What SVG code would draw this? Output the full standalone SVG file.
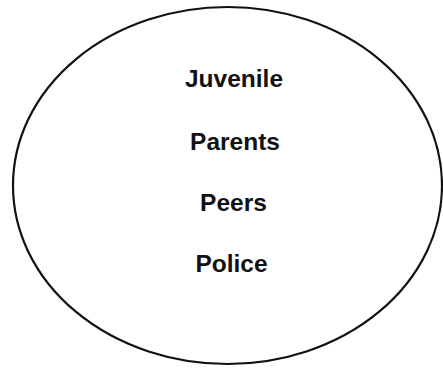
<svg xmlns="http://www.w3.org/2000/svg" width="443" height="369" viewBox="0 0 443 369">
<style>
.lbl{font-family:"Liberation Sans",Arial,sans-serif;font-size:24.5px;font-weight:bold;fill:#111;text-anchor:middle}
</style>
<rect width="443" height="369" fill="#fff"/>
<g id="circle">
<ellipse cx="227.5" cy="185.5" rx="214.5" ry="178.5" fill="none" stroke="#111" stroke-width="2.2"/>
</g>
<g id="juvenile"><text class="lbl" x="234" y="87">Juvenile</text></g>
<g id="parents"><text class="lbl" x="235" y="150">Parents</text></g>
<g id="peers"><text class="lbl" x="233.5" y="211">Peers</text></g>
<g id="police"><text class="lbl" x="231.5" y="272">Police</text></g>
<g id="connectors"></g>
</svg>
